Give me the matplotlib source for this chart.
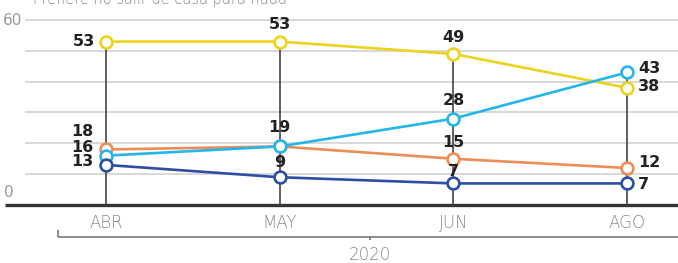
import matplotlib.pyplot as plt

months = ['ABR', 'MAY', 'JUN', 'AGO']
year_label = '2020'
title = 'Prefiere no salir de casa para nada'

yellow = [53, 53, 49, 38]
light_blue = [16, 19, 28, 43]
orange = [18, 19, 15, 12]
dark_blue = [13, 9, 7, 7]

series = [
    (yellow, '#ecd41c'),
    (orange, '#ee8c55'),
    (light_blue, '#22b6ea'),
    (dark_blue, '#2c4fa4'),
]

# label offsets in pixels (dx, dy) for each series/point, and alignment per month
offsets = {
    '#ecd41c': [(-11, 0), (0, 17), (0, 16), (11, 1)],
    '#ee8c55': [(-13, 18), (0, 19), (0, 16), (11, 5)],
    '#22b6ea': [(-13, 8), None, (0, 18), (11, 4)],
    '#2c4fa4': [(-13, 3), (0, 15), (0, 12), (11, -1)],
}
aligns = ['right', 'center', 'center', 'left']

W, H = 678, 263
fig = plt.figure(figsize=(W / 100, H / 100), dpi=100)
ax = fig.add_axes([0, 0, 1, 1])
ax.axis('off')

x = list(range(len(months)))
px_x = 173.7
px_y = 3.083
ax.set_xlim(-106 / px_x, (W - 106) / px_x)
ax.set_ylim(-(H - 205) / px_y, 60 + 20 / px_y)

def dx(p):
    return p / px_x

def dy(p):
    return p / px_y

# grid
for g in range(10, 61, 10):
    ax.hlines(g, dx(25 - 106), dx(W - 106), color='#d2d2d2', lw=1.2, zorder=0)
ax.hlines(0, dx(5 - 106), dx(W - 106), color='#333333', lw=2.4, zorder=1)

ax.text(dx(3 - 106), 60, '60', color='#999999', fontsize=11, ha='left', va='center')
ax.text(dx(4 - 106), dy(12), '0', color='#999999', fontsize=11, ha='left', va='center')

# vertical drop lines
for i in x:
    top = max(s[0][i] for s in series)
    ax.vlines(i, 0, top, color='#444444', lw=1.2, zorder=1)

for vals, col in series:
    ax.plot(x, vals, color=col, lw=1.9, marker='o', ms=8.5, mfc='white',
            mec=col, mew=1.9, zorder=3)
    for i, v in enumerate(vals):
        off = offsets[col][i]
        if off is None:
            continue
        ax.annotate(str(v), (i, v), xytext=(off[0] * 0.72, off[1] * 0.72),
                    textcoords='offset points', ha=aligns[i], va='center',
                    fontsize=11.5, fontweight='bold', color='#222222', zorder=4)

for i, m in enumerate(months):
    ax.text(i, -dy(18), m, ha='center', va='center', fontsize=12,
            color='#888888', fontweight='light')

# year bracket
yb = -dy(32)
ax.hlines(yb, dx(58 - 106), dx(W - 106), color='#777777', lw=1.2)
ax.vlines(dx(58 - 106), yb, yb + dy(7), color='#777777', lw=1.2)
ax.vlines(dx(370 - 106), yb, yb - dy(3), color='#777777', lw=1.2)
ax.text(dx(370 - 106), -dy(50), year_label, ha='center', va='center',
        fontsize=12, color='#888888', fontweight='light')

ax.text(dx(33 - 106), 60 + dy(16), title, ha='left', va='baseline',
        fontsize=10.5, color='#888888', fontweight='light')

fig.savefig('out.png', dpi=100)
